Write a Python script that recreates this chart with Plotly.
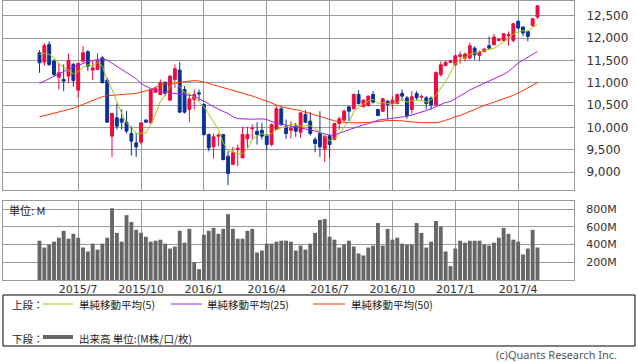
import plotly.graph_objects as go
import pandas as pd

W, H = 638, 362

# ---- data (weekly) ----
start_date = "2015-05-11"
opens = [11672, 11463, 11858, 11485, 11127, 11075, 11150, 11411, 10836, 11485,
         11694, 11284, 11299, 11560, 11060, 9807, 10217, 10195, 10120, 9866,
         9658, 9672, 10165, 10105, 10791, 10739, 11015, 10612, 11075, 11284,
         10851, 10404, 10627, 10776, 10515, 9844, 9568, 9807, 9844, 9359,
         9173, 9508, 9322, 9747, 9971, 9919, 9941, 9829, 9620, 9956,
         10419, 10016, 9941, 10031, 9896, 10292, 10143, 9732, 9866, 9523,
         9821, 9732, 10090, 10165, 10463, 10419, 10739, 10463, 10493, 10739,
         10404, 10366, 10590, 10538, 10538, 10762, 10665, 10404, 10762, 10680,
         10665, 10657, 10508, 11180, 11388, 11456, 11403, 11590, 11553, 11553,
         11776, 11612, 11702, 11829, 11851, 11948, 11948, 12052, 11948, 12373,
         12246, 12149, 12276, 12470]
highs = [11731, 11881, 11925, 11523, 11448, 11411, 11657, 11448, 11448, 11821,
         11731, 11485, 11657, 11597, 11112, 10314, 10538, 10404, 10366, 10031,
         9881, 10105, 10195, 10851, 10911, 11075, 11015, 11165, 11411, 11463,
         10926, 10739, 10851, 10851, 10538, 9866, 9866, 9866, 9844, 9471,
         9568, 9620, 10016, 10016, 10068, 10120, 10105, 9844, 10090, 10478,
         10463, 10180, 10135, 10105, 10329, 10389, 10344, 9792, 10366, 9821,
         9821, 10105, 10239, 10404, 10478, 10762, 10836, 10627, 10717, 10814,
         10419, 10665, 10612, 10702, 10762, 10851, 10702, 10814, 10814, 10739,
         10702, 10694, 11254, 11478, 11493, 11515, 11627, 11702, 11679, 11903,
         11814, 11724, 11776, 12037, 12097, 12000, 12112, 12149, 12336, 12410,
         12261, 12149, 12448, 12724]
lows = [11224, 11373, 11373, 11150, 10851, 10814, 11000, 10911, 10665, 11448,
        11261, 11060, 11284, 11000, 10120, 9344, 9956, 9956, 9866, 9374,
        9344, 9620, 10105, 10090, 10776, 10739, 10702, 10612, 10888, 10329,
        10314, 10120, 10404, 10590, 9821, 9471, 9307, 9583, 9270, 8710,
        9173, 9135, 9322, 9546, 9732, 9620, 9732, 9493, 9583, 9956,
        10031, 9747, 9755, 9792, 9769, 10105, 9821, 9449, 9344, 9225,
        9322, 9717, 9956, 10143, 10143, 10404, 10515, 10463, 10463, 10538,
        10254, 10344, 10180, 10404, 10515, 10590, 10195, 10314, 10612, 10627,
        10404, 10396, 10486, 11142, 11366, 11441, 11388, 11426, 11478, 11530,
        11515, 11478, 11679, 11739, 11836, 11926, 11926, 11829, 11903, 12201,
        12037, 11926, 12261, 12425]
closes = [11448, 11836, 11411, 11187, 11224, 11038, 11500, 11053, 11433, 11672,
          11373, 11336, 11485, 11000, 10120, 10314, 10031, 10120, 9919, 9695,
          9568, 10105, 10120, 10836, 10866, 11000, 10762, 11150, 11314, 10344,
          10344, 10642, 10739, 10754, 9844, 9546, 9792, 9829, 9284, 8971,
          9434, 9538, 9844, 9844, 9986, 9844, 9807, 9620, 10068, 10419,
          10068, 9866, 9978, 9919, 10329, 10120, 9866, 9643, 9568, 9807,
          9620, 10090, 10195, 10366, 10366, 10739, 10538, 10612, 10702, 10568,
          10269, 10642, 10515, 10612, 10739, 10702, 10269, 10687, 10665, 10695,
          10538, 10508, 11232, 11403, 11456, 11493, 11605, 11627, 11642, 11829,
          11627, 11679, 11754, 11776, 12023, 11970, 12097, 12075, 12321, 12224,
          12112, 12037, 12433, 12724]
volume_m = [444, 367, 400, 433, 478, 556, 467, 522, 478, 367,
            322, 411, 344, 411, 478, 811, 533, 433, 733, 656,
            567, 533, 489, 433, 444, 456, 411, 356, 378, 556,
            422, 578, 200, 122, 511, 556, 589, 522, 578, 744,
            578, 467, 467, 556, 578, 311, 333, 411, 411, 433,
            444, 444, 433, 333, 389, 344, 411, 533, 678, 689,
            489, 456, 367, 400, 444, 378, 300, 278, 367, 389,
            644, 389, 578, 456, 478, 411, 400, 400, 644, 533,
            367, 433, 667, 600, 322, 156, 356, 444, 422, 444,
            444, 444, 400, 389, 422, 478, 589, 522, 456, 433,
            289, 356, 567, 367]
ma5_head = [11634, 11657, 11634, 11560]
ma25 = [10985, 11040, 11095, 11150, 11205, 11261, 11306, 11352, 11398, 11435,
        11472, 11498, 11523, 11537, 11508, 11440, 11373, 11306, 11239, 11165,
        11090, 10985, 10925, 10866, 10838, 10810, 10785, 10775, 10765, 10755,
        10738, 10721, 10705, 10650, 10590, 10530, 10465, 10405, 10360, 10315,
        10239, 10200, 10190, 10182, 10185, 10190, 10195, 10180, 10140, 10095,
        10075, 10050, 10025, 10005, 9990, 9970, 9956, 9925, 9890, 9855,
        9830, 9835, 9866, 9910, 9950, 9990, 10030, 10060, 10085, 10125,
        10165, 10180, 10195, 10205, 10215, 10235, 10250, 10280, 10310, 10345,
        10380, 10420, 10470, 10515, 10560, 10583, 10640, 10695, 10770, 10840,
        10890, 10933, 10980, 11030, 11080, 11127, 11190, 11254, 11345, 11441,
        11505, 11570, 11640, 11702]
ma50 = [10240, 10265, 10290, 10315, 10340, 10365, 10395, 10430, 10475, 10520,
        10565, 10615, 10660, 10690, 10710, 10722, 10732, 10740, 10750, 10755,
        10762, 10790, 10820, 10851, 10900, 10950, 10975, 10990, 11000, 11015,
        11030, 11040, 11050, 11040, 11020, 10990, 10955, 10925, 10895, 10865,
        10840, 10800, 10765, 10735, 10705, 10670, 10630, 10590, 10550, 10500,
        10465, 10440, 10420, 10405, 10380, 10345, 10314, 10275, 10239, 10205,
        10180, 10150, 10130, 10115, 10108, 10105, 10105, 10108, 10112, 10125,
        10140, 10150, 10155, 10158, 10160, 10150, 10135, 10125, 10112, 10110,
        10110, 10105, 10110, 10128, 10160, 10200, 10245, 10270, 10315, 10360,
        10420, 10460, 10495, 10530, 10565, 10600, 10640, 10680, 10720, 10770,
        10830, 10890, 10950, 11005]
tick_labels = ["2015/7", "2015/10", "2016/1", "2016/4", "2016/7", "2016/10", "2017/1", "2017/4"]
price_ticks = [9000, 9500, 10000, 10500, 11000, 11500, 12000, 12500]
vol_ticks = [200, 400, 600, 800]

# ---- derived ----
dates = pd.date_range(start_date, periods=len(closes), freq="7D")
ma5 = pd.Series(closes).rolling(5).mean().tolist()
ma5[:4] = ma5_head

tickvals = []
for lab in tick_labels:
    y, m = lab.split("/")
    sel = [d for d in dates if d.year == int(y) and d.month == int(m)]
    tickvals.append(sel[0])

d0 = dates[0]
x_start = d0 + pd.Timedelta(days=-7.55 * 7)
x_end = d0 + pd.Timedelta(days=110.55 * 7)

FONT = "Noto Sans CJK JP, DejaVu Sans, sans-serif"
NUMFONT = "DejaVu Sans, sans-serif"
GRID = "#9a9a9a"
RED = "#f00a3c"
BLUE = "#0a3296"
GREEN = "#99cc00"
PURPLE = "#a020f0"
ORANGE = "#ff3300"

fig = go.Figure()
fig.add_trace(go.Candlestick(
    x=dates, open=opens, high=highs, low=lows, close=closes,
    increasing=dict(line=dict(color=RED, width=1), fillcolor=RED),
    decreasing=dict(line=dict(color=BLUE, width=1), fillcolor=BLUE),
    whiskerwidth=0, xaxis="x", yaxis="y", showlegend=False))
fig.add_trace(go.Scatter(x=dates, y=ma50, mode="lines", line=dict(color=ORANGE, width=1),
                         xaxis="x", yaxis="y", showlegend=False))
fig.add_trace(go.Scatter(x=dates, y=ma25, mode="lines", line=dict(color=PURPLE, width=1),
                         xaxis="x", yaxis="y", showlegend=False))
fig.add_trace(go.Scatter(x=dates, y=ma5, mode="lines", line=dict(color=GREEN, width=1),
                         xaxis="x", yaxis="y", showlegend=False))
fig.add_trace(go.Bar(x=dates, y=volume_m, marker=dict(color="#666666", line=dict(width=0)),
                     width=0.8 * 7 * 24 * 3600 * 1000, xaxis="x2", yaxis="y2", showlegend=False))

xl, xr = 3 / W, 574 / W
axis_common = dict(showline=True, linecolor=GRID, linewidth=1, mirror=True,
                   gridcolor=GRID, gridwidth=1, zeroline=False)

fig.update_layout(
    width=W, height=H, margin=dict(l=0, r=0, t=0, b=0),
    paper_bgcolor="white", plot_bgcolor="white",
    font=dict(family=FONT, size=11, color="#222222"),
    boxgap=0.15,
    xaxis=dict(domain=[xl, xr], anchor="y", type="date", range=[x_start, x_end],
               tickvals=tickvals, showticklabels=False, rangeslider=dict(visible=False),
               **axis_common),
    yaxis=dict(domain=[1 - 190 / H, 1 - 0.5 / H], anchor="x", side="right",
               range=[8604, 12840], tickvals=price_ticks,
               ticktext=[f"{v:,}" for v in price_ticks], ticks="", ticklabelstandoff=9,
               tickfont=dict(size=12, color="#333333", family=NUMFONT), **axis_common),
    xaxis2=dict(domain=[xl, xr], anchor="y2", type="date", range=[x_start, x_end],
                tickvals=tickvals, ticktext=tick_labels, ticks="", ticklabelstandoff=-1,
                tickfont=dict(size=11, color="#333333", family=NUMFONT), **axis_common),
    yaxis2=dict(domain=[1 - 280 / H, 1 - 201 / H], anchor="x2", side="right",
                range=[0, 893], tickvals=vol_ticks, ticktext=[f"{v}M" for v in vol_ticks],
                ticks="", ticklabelstandoff=9,
                tickfont=dict(size=11, color="#333333", family=NUMFONT), **axis_common),
)

def py(y):
    return 1 - y / H

shapes = [
    dict(type="rect", xref="paper", yref="paper", x0=3 / W, x1=635 / W, y0=py(346), y1=py(295),
         line=dict(color="#000000", width=1)),
    dict(type="line", xref="paper", yref="paper", x0=43 / W, x1=73 / W, y0=py(304), y1=py(304),
         line=dict(color=GREEN, width=1)),
    dict(type="line", xref="paper", yref="paper", x0=171 / W, x1=202 / W, y0=py(304), y1=py(304),
         line=dict(color=PURPLE, width=1)),
    dict(type="line", xref="paper", yref="paper", x0=313 / W, x1=345 / W, y0=py(304), y1=py(304),
         line=dict(color=ORANGE, width=1)),
    dict(type="line", xref="paper", yref="paper", x0=43 / W, x1=73 / W, y0=py(337), y1=py(337),
         line=dict(color="#666666", width=4)),
]
fig.update_layout(shapes=shapes)

def ann(x, y, text, size=10.5, color="#222222", xanchor="left", family=FONT):
    fig.add_annotation(xref="paper", yref="paper", x=x / W, y=py(y), text=text, showarrow=False,
                       xanchor=xanchor, yanchor="middle", borderpad=0,
                       font=dict(size=size, color=color, family=family))

ann(8, 210, "単位: M", size=11)
ann(11, 304, "上段：")
ann(78, 304, "単純移動平均(5)")
ann(206, 304, "単純移動平均(25)")
ann(350, 304, "単純移動平均(50)")
ann(11, 338, "下段：")
ann(78, 338, "出来高 単位:(M株/口/枚)")
ann(618, 354, "(c)Quants Research Inc.", size=11, color="#555555", xanchor="right",
    family="Noto Sans, DejaVu Sans, sans-serif")

fig.write_html("out.html", config={"displayModeBar": False},
               post_script="document.body.style.margin='0';document.body.style.padding='0';")
